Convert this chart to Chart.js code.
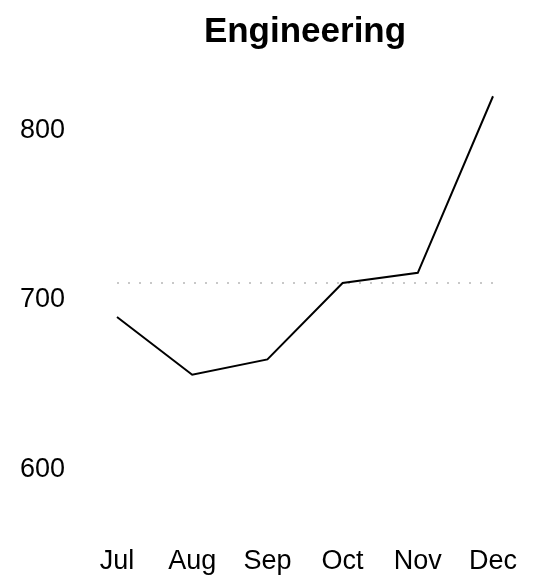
<!DOCTYPE html>
<html>
<head>
<meta charset="utf-8">
<script src="https://cdn.jsdelivr.net/npm/chart.js@4/dist/chart.umd.min.js"></script>
<style>
  html, body { margin: 0; padding: 0; background: #fff; }
  #wrap { width: 534px; height: 577px; }
</style>
</head>
<body>
<div id="wrap"><canvas id="chartEngineering" width="534" height="577"></canvas></div>
<script>
const months = ['Jul', 'Aug', 'Sep', 'Oct', 'Nov', 'Dec'];
const engineering = [690, 656, 665, 710, 716, 820];
const averageValue = 710;
const yTicks = [600, 700, 800];

function renderChart() {
    const ctx = document.querySelector('#chartEngineering').getContext('2d');
    const chart = new Chart(ctx, {
        type: 'line',
        data: {
            labels: months,
            datasets: [{
                data: engineering,
                borderColor: '#000',
                borderWidth: 2,
                pointRadius: 0,
                tension: 0,
                fill: false
            }, {
                data: months.map(() => averageValue),
                borderColor: '#c8c8c8',
                borderWidth: 2,
                borderDash: [2, 9],
                pointRadius: 0,
                fill: false
            }]
        },
        options: {
            responsive: false,
            animation: false,
            layout: { padding: { left: 20, right: 41, top: 0, bottom: 0 } },
            plugins: {
                legend: { display: false },
                tooltip: { enabled: false },
                title: {
                    display: true,
                    text: 'Engineering',
                    fullSize: false,
                    color: '#000',
                    font: { family: 'Liberation Sans, Arial, sans-serif', size: 35, weight: 'bold', lineHeight: 1.2 },
                    padding: { top: 11, bottom: 11 }
                }
            },
            scales: {
                x: {
                    grid: { display: false, drawTicks: false },
                    border: { display: false },
                    afterFit: scale => { scale.height = 41; },
                    ticks: {
                        color: '#000',
                        padding: 9,
                        maxRotation: 0,
                        font: { family: 'Liberation Sans, Arial, sans-serif', size: 27, lineHeight: 1.2 }
                    }
                },
                y: {
                    min: 561,
                    max: 839,
                    grid: { display: false, drawTicks: false },
                    border: { display: false },
                    afterBuildTicks: scale => { scale.ticks = yTicks.map(v => ({ value: v })); },
                    afterFit: scale => { scale.width = 97; },
                    ticks: {
                        color: '#000',
                        padding: 0,
                        crossAlign: 'far',
                        font: { family: 'Liberation Sans, Arial, sans-serif', size: 27, lineHeight: 1.2 }
                    }
                }
            }
        }
    });
}
renderChart();
</script>
</body>
</html>
